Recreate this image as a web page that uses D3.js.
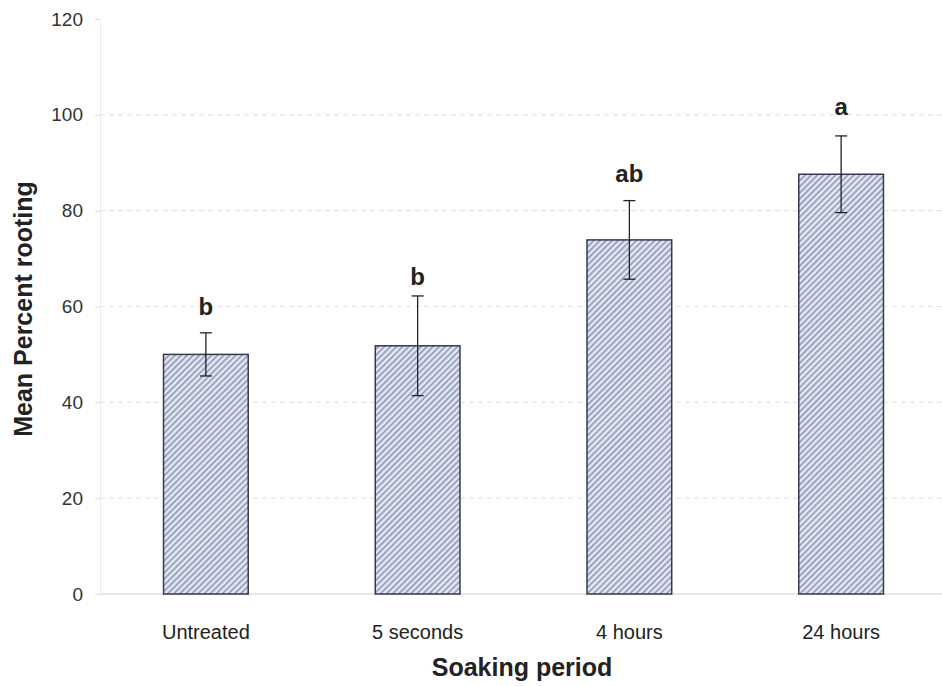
<!DOCTYPE html>
<html>
<head>
<meta charset="utf-8">
<script src="https://cdn.jsdelivr.net/npm/d3@7"></script>
<style>
  html, body { margin: 0; padding: 0; background: #fff; }
  svg { display: block; font-family: Arial, "Liberation Sans", sans-serif; }
</style>
</head>
<body>
<svg id="chart" width="942" height="686"></svg>
<script>
// Soaking treatments and mean rooting percentages
const categories = ["Untreated", "5 seconds", "4 hours", "24 hours"];
const meanRooting = [50, 51.8, 73.9, 87.6];
const errorHalf = [4.5, 10.4, 8.2, 8];
const groupLetters = ["b", "b", "ab", "a"];
// height (in % rooting) at which each group letter sits
const letterLevel = [58.3, 64.5, 86, 100];
const yTicks = [0, 20, 40, 60, 80, 100, 120];

const svg = d3.select("#chart");
const W = 942;
const plotLeft = 100, plotTop = 19, plotBottom = 594;
const FONT = "Arial, 'Liberation Sans', sans-serif";

const x = d3.scaleBand().domain(categories).range([plotLeft, 947]).paddingInner(0.6).paddingOuter(0.3);
const y = d3.scaleLinear().domain([0, 120]).range([plotBottom, plotTop]);

// Diagonal hatch fill for the bars
const defs = svg.append("defs");
const pat = defs.append("pattern")
  .attr("id", "hatch")
  .attr("patternUnits", "userSpaceOnUse")
  .attr("width", 4.3).attr("height", 4.3)
  .attr("patternTransform", "rotate(45)");
pat.append("rect").attr("width", 4.3).attr("height", 4.3).attr("fill", "#e2e6ef");
pat.append("rect").attr("width", 1.8).attr("height", 4.3).attr("fill", "#97a0bf");

// Dashed gridlines
svg.append("g")
  .selectAll("line")
  .data(yTicks.filter(d => d > 0 && d < 120))
  .join("line")
  .attr("x1", plotLeft).attr("x2", W)
  .attr("y1", d => y(d)).attr("y2", d => y(d))
  .attr("stroke", "#e4e4e4")
  .attr("stroke-width", 1.2)
  .attr("stroke-dasharray", "5,4");

// Y axis
const yAxis = svg.append("g")
  .attr("transform", `translate(${plotLeft},0)`)
  .call(d3.axisLeft(y).tickValues(yTicks).tickSize(5).tickPadding(12));
yAxis.select(".domain").attr("stroke", "#ececec");
yAxis.selectAll(".tick line").attr("stroke", "#dddddd");
yAxis.selectAll("text").attr("font-size", 19).attr("fill", "#333").attr("font-family", FONT);

// X axis
const xAxis = svg.append("g")
  .attr("transform", `translate(0,${plotBottom})`)
  .call(d3.axisBottom(x).tickSize(0).tickPadding(31));
xAxis.select(".domain").remove();
xAxis.selectAll("text").attr("font-size", 20).attr("fill", "#222").attr("font-family", FONT);
svg.append("line")
  .attr("x1", plotLeft).attr("x2", W)
  .attr("y1", plotBottom).attr("y2", plotBottom)
  .attr("stroke", "#cfcfcf").attr("stroke-width", 1.2);

// Bars
svg.append("g")
  .selectAll("rect")
  .data(categories)
  .join("rect")
  .attr("x", d => x(d))
  .attr("y", (d, i) => y(meanRooting[i]))
  .attr("width", x.bandwidth())
  .attr("height", (d, i) => y(0) - y(meanRooting[i]))
  .attr("fill", "url(#hatch)")
  .attr("stroke", "#363a4f")
  .attr("stroke-width", 1.5);

// Error bars
const eb = svg.append("g").attr("stroke", "#222").attr("stroke-width", 1.3);
categories.forEach((c, i) => {
  const cx = x(c) + x.bandwidth() / 2;
  const hi = y(meanRooting[i] + errorHalf[i]);
  const lo = y(meanRooting[i] - errorHalf[i]);
  eb.append("line").attr("x1", cx).attr("x2", cx).attr("y1", hi).attr("y2", lo);
  eb.append("line").attr("x1", cx - 6).attr("x2", cx + 6).attr("y1", hi).attr("y2", hi);
  eb.append("line").attr("x1", cx - 6).attr("x2", cx + 6).attr("y1", lo).attr("y2", lo);
});

// Significance letters
svg.append("g")
  .selectAll("text")
  .data(categories)
  .join("text")
  .attr("x", d => x(d) + x.bandwidth() / 2)
  .attr("y", (d, i) => y(letterLevel[i]))
  .attr("text-anchor", "middle")
  .attr("font-size", 24)
  .attr("font-weight", "bold")
  .attr("fill", "#222")
  .text((d, i) => groupLetters[i]);

// Axis titles
svg.append("text")
  .attr("transform", `translate(32,309) rotate(-90)`)
  .attr("text-anchor", "middle")
  .attr("font-size", 25)
  .attr("font-weight", "bold")
  .attr("fill", "#222")
  .text("Mean Percent rooting");

svg.append("text")
  .attr("x", 522).attr("y", 676)
  .attr("text-anchor", "middle")
  .attr("font-size", 25)
  .attr("font-weight", "bold")
  .attr("fill", "#222")
  .text("Soaking period");
</script>
</body>
</html>
